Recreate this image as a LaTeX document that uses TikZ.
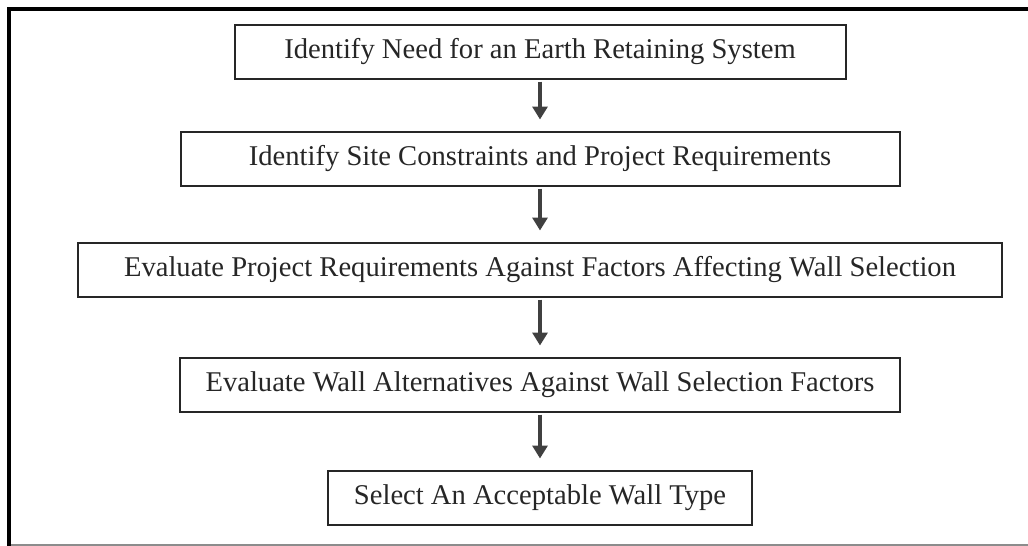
\documentclass[tikz,border=0pt]{standalone}
\usepackage{fontspec}
\setmainfont{Liberation Serif}
\usetikzlibrary{positioning,arrows.meta}

\begin{document}
\begin{tikzpicture}[
    x=1pt, y=1pt,
    box/.style={draw=black!85, line width=1pt, minimum height=27pt, inner sep=0pt, outer sep=0pt, text=black!85, font=\fontsize{14.3}{17}\selectfont},
    arr/.style={-{Triangle[width=7.5pt,length=6.5pt]}, line width=2pt, draw=black!75, shorten <=1.5pt, shorten >=6pt}
]
\useasboundingbox (0,0) rectangle (514,-273);
% frame
\draw[line width=2pt] (4.5,-273) -- (4.5,-4.5) -- (514,-4.5);
\draw[black!45, line width=0.8pt] (5.5,-272.6) -- (514,-272.6);

\node[box, minimum width=305.5pt] (need) at (270,-25.75) {Identify Need for an Earth Retaining System};
\node[box, minimum width=359.5pt, below=26.5pt of need] (site) {Identify Site Constraints and Project Requirements};
\node[box, minimum width=462pt, below=28.5pt of site] (factors) {Evaluate Project Requirements Against Factors Affecting Wall Selection};
\node[box, minimum width=360pt, below=30.5pt of factors] (alts) {Evaluate Wall Alternatives Against Wall Selection Factors};
\node[box, minimum width=212pt, below=29.5pt of alts] (select) {Select An Acceptable Wall Type};
\draw[arr] (need) -- (site);
\draw[arr] (site) -- (factors);
\draw[arr] (factors) -- (alts);
\draw[arr] (alts) -- (select);
\end{tikzpicture}
\end{document}
